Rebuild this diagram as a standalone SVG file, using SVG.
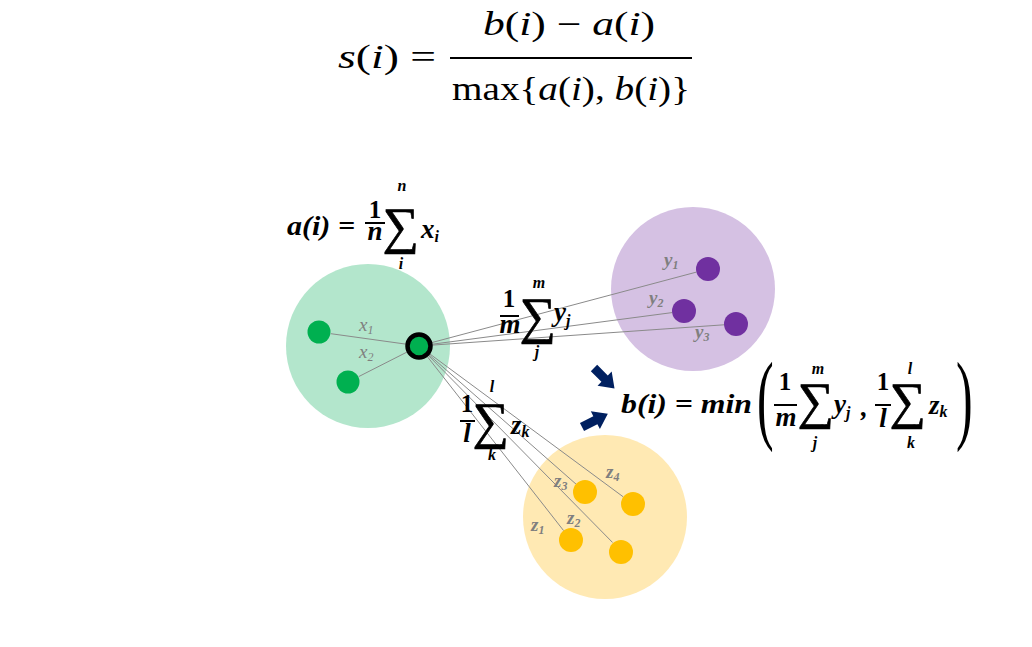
<svg xmlns="http://www.w3.org/2000/svg" width="1032" height="647" viewBox="0 0 1032 647">
<defs>
<style>
.t{font-family:"Liberation Serif",serif;font-size:33px;fill:#000}
.it{font-style:italic}
.b{font-family:"Liberation Serif",serif;font-style:italic;font-weight:bold;fill:#000;font-size:27px}
.one{font-family:"Liberation Serif",serif;font-weight:bold;fill:#000;font-size:25px;text-anchor:middle}
.f16{font-size:16px}
.sig{font-family:"Liberation Serif",serif;font-size:51px;fill:#000;stroke:#000;stroke-width:0.7;text-anchor:middle}
.c{text-anchor:middle}
.gl{font-family:"Liberation Serif",serif;font-style:italic;fill:#7f7f7f;font-size:19px}
.gb{font-weight:bold}
.sub{font-size:12px}
.bar{stroke:#000;stroke-width:2}
.par{font-family:"Liberation Serif",serif;font-size:100px;fill:#000}
.conn line{stroke:#8a8a8a;stroke-width:1}
.arr{fill:#002060}
</style>
<path id="arrow" d="M0,-4.5 L15,-4.5 L15,-10 L29,0 L15,10 L15,4.5 L0,4.5 Z"/>
</defs>
<rect width="1032" height="647" fill="#fff"/>

<g id="formula-s">
<text class="t" x="338" y="68" textLength="98" lengthAdjust="spacingAndGlyphs"><tspan class="it">s</tspan>(<tspan class="it">i</tspan>) =</text>
<text class="t" x="483" y="35" textLength="172" lengthAdjust="spacingAndGlyphs"><tspan class="it">b</tspan>(<tspan class="it">i</tspan>) − <tspan class="it">a</tspan>(<tspan class="it">i</tspan>)</text>
<line class="bar" x1="450" y1="58" x2="692" y2="58"/>
<text class="t" x="452" y="100" textLength="238" lengthAdjust="spacingAndGlyphs">max{<tspan class="it">a</tspan>(<tspan class="it">i</tspan>), <tspan class="it">b</tspan>(<tspan class="it">i</tspan>)}</text>
</g>

<g id="cluster-a">
<circle cx="368" cy="346" r="82" fill="#b3e6cc"/>
</g>
<g id="cluster-b">
<circle cx="693" cy="289" r="82" fill="#d5c1e3"/>
</g>
<g id="cluster-c">
<circle cx="605" cy="517" r="82" fill="#ffe9b3"/>
</g>

<g id="connectors" class="conn">
<line x1="407.1" y1="344.3" x2="330.9" y2="333.7"/>
<line x1="408.3" y1="351.4" x2="358.7" y2="376.6"/>
<line x1="430.6" y1="342.9" x2="696.4" y2="272.1"/>
<line x1="430.9" y1="344.4" x2="672.1" y2="312.6"/>
<line x1="431" y1="345.2" x2="724" y2="324.8"/>
<line x1="426.4" y1="355.4" x2="563.6" y2="530.6"/>
<line x1="427.4" y1="354.5" x2="612.6" y2="542.5"/>
<line x1="428" y1="353.9" x2="576" y2="484.1"/>
<line x1="428.7" y1="353.1" x2="623.3" y2="496.9"/>
</g>

<g id="points-a">
<circle cx="319" cy="332" r="11.5" fill="#00b050"/>
<circle cx="348" cy="382" r="11.5" fill="#00b050"/>
<circle id="point-i" cx="419" cy="346" r="11.5" fill="#00b050" stroke="#000" stroke-width="4.5"/>
<text class="gl" x="359" y="331">x<tspan class="sub" dy="3">1</tspan></text>
<text class="gl" x="359" y="358">x<tspan class="sub" dy="3">2</tspan></text>
</g>
<g id="points-b">
<circle cx="708" cy="269" r="12" fill="#7030a0"/>
<circle cx="684" cy="311" r="12" fill="#7030a0"/>
<circle cx="736" cy="324" r="12" fill="#7030a0"/>
<text class="gl gb" x="664" y="266">y<tspan class="sub" dy="3">1</tspan></text>
<text class="gl gb" x="649" y="304">y<tspan class="sub" dy="3">2</tspan></text>
<text class="gl gb" x="695" y="338">y<tspan class="sub" dy="3">3</tspan></text>
</g>
<g id="points-c">
<circle cx="585" cy="492" r="12" fill="#ffc000"/>
<circle cx="633" cy="504" r="12" fill="#ffc000"/>
<circle cx="571" cy="540" r="12" fill="#ffc000"/>
<circle cx="621" cy="552" r="12" fill="#ffc000"/>
<text class="gl gb" x="554" y="487">z<tspan class="sub" dy="3">3</tspan></text>
<text class="gl gb" x="606" y="478">z<tspan class="sub" dy="3">4</tspan></text>
<text class="gl gb" x="531" y="531">z<tspan class="sub" dy="3">1</tspan></text>
<text class="gl gb" x="567" y="524">z<tspan class="sub" dy="3">2</tspan></text>
</g>

<g id="formula-a">
<text class="b" x="287" y="235" textLength="68" lengthAdjust="spacingAndGlyphs">a(i) =</text>
<text class="one" x="375" y="218">1</text>
<line class="bar" x1="365" y1="223" x2="385" y2="223"/>
<text class="b c" x="375" y="240">n</text>
<text class="sig" x="401" y="243">∑</text>
<text class="b f16 c" x="402" y="191">n</text>
<text class="b f16 c" x="401" y="269">i</text>
<text class="b" x="421" y="238">x<tspan class="f16" dy="4">i</tspan></text>
</g>

<g id="formula-m">
<text class="one" x="509" y="307">1</text>
<line class="bar" x1="500" y1="316" x2="519" y2="316"/>
<text class="b c" x="510" y="333">m</text>
<text class="sig" x="538" y="333">∑</text>
<text class="b f16 c" x="539" y="288">m</text>
<text class="b f16 c" x="537" y="357">j</text>
<text class="b" x="554" y="321">y<tspan class="f16" dy="5">j</tspan></text>
</g>

<g id="formula-l">
<text class="one" x="467" y="412">1</text>
<line class="bar" x1="460" y1="421" x2="475" y2="421"/>
<text class="b c" x="467" y="442">l</text>
<text class="sig" x="491" y="438">∑</text>
<text class="b f16 c" x="492" y="392">l</text>
<text class="b f16 c" x="492" y="460">k</text>
<text class="b" x="511" y="434">z<tspan class="f16" dy="3">k</tspan></text>
</g>

<g id="arrows" class="arr">
<use href="#arrow" transform="translate(594,368) rotate(45)"/>
<use href="#arrow" transform="translate(582,427) rotate(-27)"/>
</g>

<g id="formula-b">
<text class="b" style="font-size:28px" x="621" y="413" textLength="131" lengthAdjust="spacingAndGlyphs">b(i) =  min</text>
<text class="par" transform="translate(757,431) scale(0.5,1)">(</text>
<text class="one" x="785" y="390">1</text>
<line class="bar" x1="774" y1="405" x2="797" y2="405"/>
<text class="b c" x="786" y="426">m</text>
<text class="sig" x="816" y="418">∑</text>
<text class="b f16 c" x="818" y="374">m</text>
<text class="b f16 c" x="815" y="448">j</text>
<text class="b" x="834" y="413">y<tspan class="f16" dy="5">j</tspan></text>
<text class="b" x="861" y="416">,</text>
<text class="one" x="883" y="390">1</text>
<line class="bar" x1="875" y1="405" x2="891" y2="405"/>
<text class="b c" x="883" y="427">l</text>
<text class="sig" x="908" y="418">∑</text>
<text class="b f16 c" x="910" y="374">l</text>
<text class="b f16 c" x="911" y="448">k</text>
<text class="b" x="929" y="414">z<tspan class="f16" dy="3">k</tspan></text>
<text class="par" transform="translate(956,431) scale(0.5,1)">)</text>
</g>
</svg>
